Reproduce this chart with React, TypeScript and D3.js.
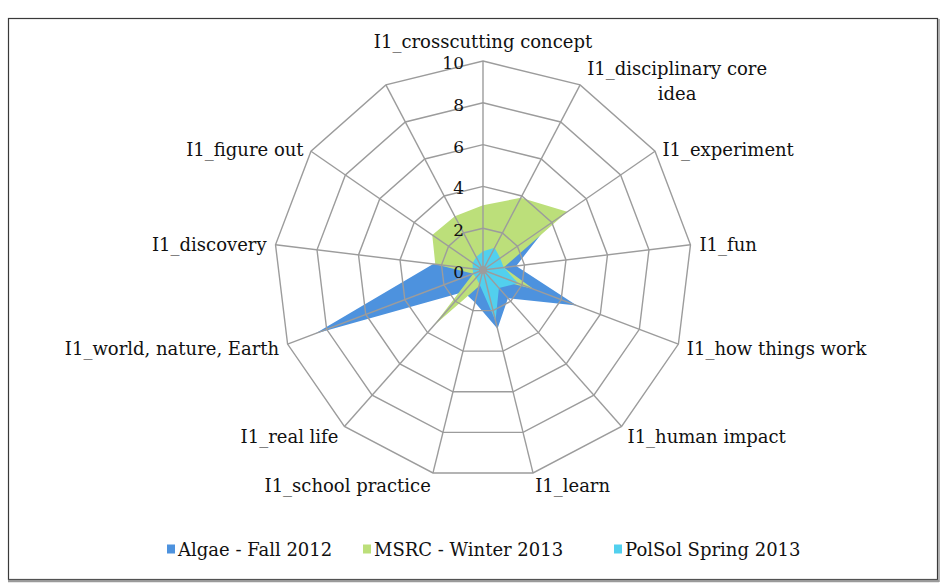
import React from 'react';
import * as d3 from 'd3';

const categories = [
  'I1_crosscutting concept',
  'I1_disciplinary core idea',
  'I1_experiment',
  'I1_fun',
  'I1_how things work',
  'I1_human impact',
  'I1_learn',
  'I1_school practice',
  'I1_real life',
  'I1_world, nature, Earth',
  'I1_discovery',
  'I1_figure out',
  '',
];
const algae = [1.0, 1.5, 3.8, 1.6, 4.8, 1.8, 2.9, 1.6, 1.4, 8.6, 2.4, 0.8, 0.8];
const msrc = [3.1, 3.9, 4.9, 1.0, 2.6, 0.5, 0.5, 0.8, 3.6, 0.5, 2.3, 2.95, 2.9];
const polsol = [0.9, 1.2, 1.0, 1.0, 1.8, 1.15, 2.5, 0.7, 0.5, 0.5, 0.5, 0.6, 0.7];
const seriesNames = ['Algae - Fall 2012', 'MSRC - Winter 2013', 'PolSol Spring 2013'];
const seriesColors = ['#4d92de', '#bcdf7a', '#52d0ee'];
const tickValues = [0, 2, 4, 6, 8, 10];

const W = 944;
const H = 588;
const cx = 483;
const cy = 270;
const R = 209;
const FONT = '"DejaVu Serif", serif';

export default function App() {
  const n = categories.length;
  const r = d3.scaleLinear().domain([0, 10]).range([0, R]);
  const ang = d3.scaleLinear().domain([0, n]).range([0, 2 * Math.PI]);
  const idx = d3.range(n);

  const radial = d3
    .lineRadial<number>()
    .angle((_, i) => ang(i))
    .radius((d) => r(d))
    .curve(d3.curveLinearClosed);

  const ring = (v: number) => radial(idx.map(() => v)) as string;

  const allSeries = [algae, msrc, polsol];

  const pt = (i: number, v: number) => {
    const a = ang(i);
    return [cx + Math.sin(a) * r(v), cy - Math.cos(a) * r(v)];
  };

  const labels = idx.map((i) => {
    const text = categories[i];
    if (!text) return null;
    const a = ang(i);
    const s = Math.sin(a);
    const c = Math.cos(a);
    const [vx, vy] = pt(i, 10);
    if (i === 0) {
      return (
        <text key={i} x={vx} y={vy - 20} textAnchor="middle" dominantBaseline="central">
          {text}
        </text>
      );
    }
    if (text === 'I1_disciplinary core idea') {
      return (
        <text key={i} x={vx + 97} y={vy - 17} textAnchor="middle" dominantBaseline="central">
          <tspan x={vx + 97} dy={0}>I1_disciplinary core</tspan>
          <tspan x={vx + 97} dy={25}>idea</tspan>
        </text>
      );
    }
    const anchor = Math.abs(s) < 0.05 ? 'middle' : s > 0 ? 'start' : 'end';
    const x = vx + s * 9;
    const y = vy - c * (c < 0 ? 13 : 3);
    return (
      <text key={i} x={x} y={y} textAnchor={anchor} dominantBaseline="central">
        {text}
      </text>
    );
  });

  const legendX = [167, 363, 614];

  return (
    <svg
      width={W}
      height={H}
      style={{ position: 'absolute', left: 0, top: 0, background: '#fff' }}
      fontFamily={FONT}
    >
      <rect x={0} y={0} width={W} height={H} fill="#fff" />
      <rect x={8.5} y={18.5} width={929} height={561} fill="#fff" stroke="#3a3a3a" strokeWidth={1.2} />
      <line x1={8} x2={939} y1={581} y2={581} stroke="#9a9a9a" strokeWidth={2.5} />
      <line x1={939} x2={939} y1={19} y2={582} stroke="#9a9a9a" strokeWidth={1.5} />

      <g transform={`translate(${cx},${cy})`}>
        {allSeries.map((vals, si) => (
          <path key={si} d={radial(vals) as string} fill={seriesColors[si]} stroke="none" />
        ))}
        {tickValues
          .filter((v) => v > 0)
          .map((v) => (
            <path key={v} d={ring(v)} fill="none" stroke="#9c9c9c" strokeWidth={1.4} />
          ))}
        {idx.map((i) => {
          const a = ang(i);
          return (
            <line
              key={i}
              x1={0}
              y1={0}
              x2={Math.sin(a) * R}
              y2={-Math.cos(a) * R}
              stroke="#9c9c9c"
              strokeWidth={1.4}
            />
          );
        })}
        <circle r={4} fill="#9c9c9c" />
      </g>

      <g fontSize={17} fill="#111">
        {tickValues.map((v) => (
          <text key={v} x={cx - 19} y={cy - r(v) + 2} textAnchor="end" dominantBaseline="central">
            {v}
          </text>
        ))}
      </g>

      <g fontSize={18} fill="#111">{labels}</g>

      <g fontSize={18} fill="#111">
        {seriesNames.map((name, si) => (
          <g key={name} transform={`translate(${legendX[si]},549)`}>
            <rect x={0} y={-4.5} width={8} height={9} fill={seriesColors[si]} />
            <text x={11} y={0} dominantBaseline="central">
              {name}
            </text>
          </g>
        ))}
      </g>
    </svg>
  );
}
